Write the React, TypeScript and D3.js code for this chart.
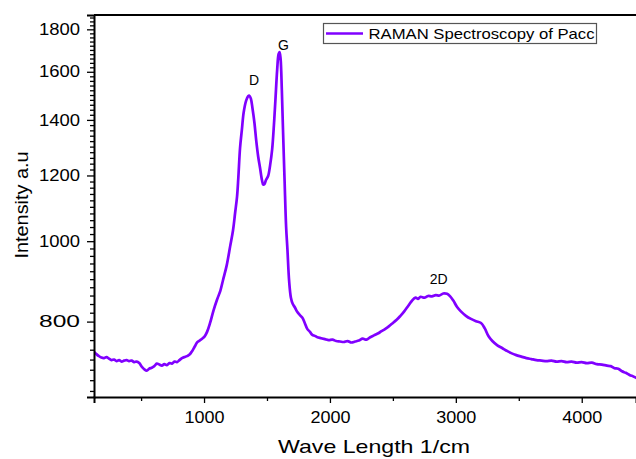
import React, { useEffect, useRef } from 'react';
import * as d3 from 'd3';

// Raman spectrum
const waveNumbers = [
  125, 145, 165, 185, 205, 225, 245, 265, 285, 305, 325, 345, 365, 385, 405, 425, 445, 465, 485, 505,
  525, 545, 565, 585, 605, 625, 645, 665, 685, 705, 725, 745, 765, 785, 805, 825, 845, 865, 885, 905,
  925, 945, 965, 985, 1005, 1025, 1048, 1075, 1103, 1130, 1151, 1180, 1207, 1230, 1247, 1262, 1272, 1286, 1300, 1315,
  1335, 1350, 1360, 1372, 1385, 1400, 1415, 1430, 1445, 1460, 1470, 1480, 1492, 1509, 1525, 1541, 1555, 1567, 1581, 1592,
  1600, 1608, 1618, 1628, 1640, 1652, 1662, 1676, 1690, 1705, 1722, 1740, 1760, 1780, 1800, 1820, 1840, 1860, 1880, 1900,
  1930, 1960, 1990, 2020, 2050, 2080, 2110, 2140, 2170, 2200, 2230, 2260, 2290, 2320, 2350, 2380, 2410, 2440, 2470, 2500,
  2530, 2560, 2590, 2620, 2650, 2680, 2700, 2720, 2750, 2780, 2810, 2840, 2870, 2900, 2930, 2955, 2980, 3010, 3040, 3080,
  3120, 3160, 3200, 3230, 3260, 3290, 3330, 3370, 3410, 3440, 3480, 3520, 3560, 3600, 3640, 3680, 3720, 3760, 3800, 3840,
  3880, 3920, 3960, 4000, 4040, 4080, 4120, 4160, 4200, 4230, 4260, 4290, 4320, 4350, 4380, 4410, 4437,
];

const intensities = [
  736, 731, 727, 724, 723, 725, 722, 719, 720, 717, 719, 716, 718, 719, 717, 718, 715, 716, 713, 706,
  701, 698, 702, 704, 707, 712, 710, 708, 711, 709, 713, 712, 716, 715, 719, 723, 725, 727, 730, 737,
  746, 755, 759, 763, 768, 778, 797, 825, 850, 872, 898, 935, 985, 1030, 1082, 1131, 1190, 1295, 1360, 1430,
  1478, 1495, 1497, 1485, 1445, 1390, 1320, 1265, 1225, 1185, 1170, 1172, 1185, 1198, 1235, 1290, 1380, 1480, 1610, 1680,
  1690, 1660, 1520, 1350, 1180, 1040, 980, 895, 855, 840, 832, 822, 815, 809, 797, 784, 778, 771, 769, 766,
  764, 762, 760, 761, 758, 757, 756, 758, 755, 757, 759, 763, 761, 766, 770, 774, 779, 784, 790, 797,
  804, 813, 823, 835, 847, 855, 852, 857, 855, 859, 858, 861, 860, 865, 864, 858, 848, 833, 823, 813,
  806, 801, 797, 785, 768, 758, 749, 743, 737, 733, 729, 726, 723, 721, 719, 718, 717, 718, 716, 717,
  715, 716, 714, 715, 713, 714, 711, 710, 708, 707, 703, 702, 697, 694, 690, 687, 684,
];

const yMajorTicks = [800, 1000, 1200, 1400, 1600, 1800];
const yMinorTicks = d3.range(660, 1861, 20).filter(v => !yMajorTicks.includes(v));
const xMajorTicks = [1000, 2000, 3000, 4000];
const xMinorTicks = [500, 1500, 2500, 3500];

const peakLabels = [
  { text: 'D', wave: 1397, value: 1541 },
  { text: 'G', wave: 1631, value: 1700 },
  { text: '2D', wave: 2863, value: 888 },
];

const legendLabel = 'RAMAN Spectroscopy of Pacc';
const lineColor = '#8000ff';
const font = '"Liberation Sans", Arial, sans-serif';

const W = 636;
const H = 459;
const margin = { top: 15, right: 0, bottom: 62, left: 94 };

export default function App() {
  const xAxisRef = useRef<SVGGElement>(null);
  const yAxisRef = useRef<SVGGElement>(null);

  const x = d3.scaleLinear().domain([126, 4431]).range([margin.left, W - margin.right]);
  const y = d3.scaleLog().domain([649, 1873]).range([H - margin.bottom, margin.top]);

  const points: [number, number][] = waveNumbers.map((w, i) => [w, intensities[i]]);
  const line = d3.line<[number, number]>()
    .x(d => x(d[0]))
    .y(d => y(d[1]))
    .curve(d3.curveCatmullRom.alpha(0.5));

  useEffect(() => {
    const xg = d3.select(xAxisRef.current);
    xg.selectAll('*').remove();
    xg.append('g')
      .call(d3.axisBottom(x).tickValues(xMinorTicks).tickSize(4).tickFormat(() => ''))
      .call(g => g.select('.domain').remove());
    xg.append('g')
      .call(d3.axisBottom(x).tickValues(xMajorTicks).tickSize(6).tickPadding(9).tickFormat(d3.format('d')))
      .call(g => g.select('.domain').attr('stroke-width', 2))
      .selectAll('text')
      .attr('font-family', font)
      .attr('font-size', 16)
      .attr('fill', '#000')
      .attr('textLength', 40)
      .attr('lengthAdjust', 'spacingAndGlyphs');
    xg.selectAll('.tick line').attr('stroke-width', 1.3);

    const yg = d3.select(yAxisRef.current);
    yg.selectAll('*').remove();
    yg.append('g')
      .call(d3.axisLeft(y).tickValues(yMinorTicks).tickSize(4).tickFormat(() => ''))
      .call(g => g.select('.domain').remove());
    yg.append('g')
      .call(d3.axisLeft(y).tickValues(yMajorTicks).tickSize(7).tickPadding(7).tickFormat(d3.format('d')))
      .call(g => g.select('.domain').attr('stroke-width', 2))
      .selectAll('text')
      .attr('font-family', font)
      .attr('font-size', 16)
      .attr('fill', '#000')
      .attr('textLength', 41)
      .attr('lengthAdjust', 'spacingAndGlyphs');
    yg.selectAll('.tick line').attr('stroke-width', 1.3);
  }, []);

  const plotBottom = H - margin.bottom;

  return (
    <div style={{ position: 'absolute', left: 0, top: 0 }}>
      <svg width={W} height={H} style={{ display: 'block', background: '#fff' }}>
        <defs>
          <clipPath id="plot-clip">
            <rect x={margin.left} y={margin.top} width={W - margin.left - margin.right} height={plotBottom - margin.top} />
          </clipPath>
        </defs>
        <line x1={margin.left} x2={W} y1={margin.top} y2={margin.top} stroke="#000" strokeWidth={2} />
        <path d={line(points) || ''} fill="none" stroke={lineColor} strokeWidth={2.7} strokeLinejoin="round" clipPath="url(#plot-clip)" />
        <g ref={xAxisRef} transform={`translate(0,${plotBottom})`} />
        <g ref={yAxisRef} transform={`translate(${margin.left},0)`} />

        {peakLabels.map(p => (
          <text key={p.text} x={x(p.wave)} y={y(p.value)} textAnchor="middle" fontFamily={font} fontSize={14} fill="#000">
            {p.text}
          </text>
        ))}

        <text x={374} y={453} textAnchor="middle" fontFamily={font} fontSize={19} fill="#000" textLength={192} lengthAdjust="spacingAndGlyphs">
          Wave Length 1/cm
        </text>
        <text transform="translate(28,205) rotate(-90)" textAnchor="middle" fontFamily={font} fontSize={18} fill="#000" textLength={107} lengthAdjust="spacingAndGlyphs">
          Intensity a.u
        </text>

        <g>
          <rect x={323.5} y={23.5} width={273} height={20} fill="#fff" stroke="#555" strokeWidth={1.2} />
          <line x1={326} x2={363} y1={33.5} y2={33.5} stroke={lineColor} strokeWidth={2.6} />
          <text x={368.5} y={39} fontFamily={font} fontSize={15} fill="#000" textLength={226} lengthAdjust="spacingAndGlyphs">
            {legendLabel}
          </text>
        </g>
      </svg>
    </div>
  );
}
